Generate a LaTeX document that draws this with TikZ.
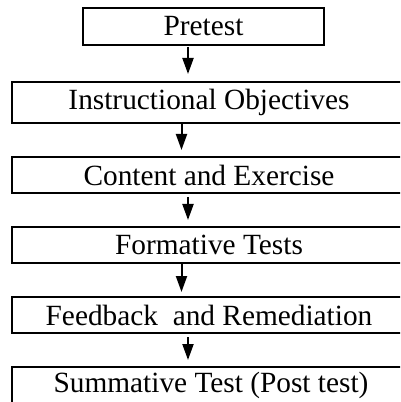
\documentclass[tikz,border=0pt]{standalone}
\usepackage{fontspec}
\setmainfont{Liberation Serif}
\usetikzlibrary{arrows.meta}
\begin{document}
\begin{tikzpicture}[x=0.75pt,y=-0.75pt,
  stepbox/.style={draw,line width=1.5pt,inner sep=0pt,outer sep=0pt,
    font=\fontsize{22}{26}\selectfont},
  arr/.style={line width=1.5pt,-{Triangle[width=8.25pt,length=12pt]}}]
\clip (0,0) rectangle (400,402);
\fill[white] (0,0) rectangle (400,402);
\node[stepbox,minimum width=180.75pt,minimum height=27.75pt] (pre) at (203.5,26.5) {Pretest};
\node[stepbox,minimum width=295.5pt,minimum height=30.75pt] (obj) at (209,102.5) {Instructional Objectives};
\node[stepbox,minimum width=295.5pt,minimum height=27pt] (con) at (209,175) {Content and Exercise};
\node[stepbox,minimum width=295.5pt,minimum height=27pt] (for) at (209,245) {Formative Tests};
\node[stepbox,minimum width=295.5pt,minimum height=27pt] (fee) at (209,315) {Feedback\ \ and Remediation};
\node[stepbox,minimum width=298.5pt,minimum height=27.75pt] (sum) at (211,385.5) {Summative Test (Post test)};
\coordinate (xa) at (188,0);
\coordinate (xb) at (181.5,0);
\draw[arr,shorten <=1.5pt,shorten >=6pt] (pre.south -| xa) -- (obj.north -| xa);
\draw[arr,shorten >=5.25pt] (obj.south -| xb) -- (con.north -| xb);
\draw[arr,shorten <=3pt,shorten >=5.25pt] (con.south -| xa) -- (for.north -| xa);
\draw[arr,shorten >=3.75pt] (for.south -| xb) -- (fee.north -| xb);
\draw[arr,shorten <=3pt,shorten >=5.25pt] (fee.south -| xa) -- (sum.north -| xa);
\end{tikzpicture}
\end{document}
